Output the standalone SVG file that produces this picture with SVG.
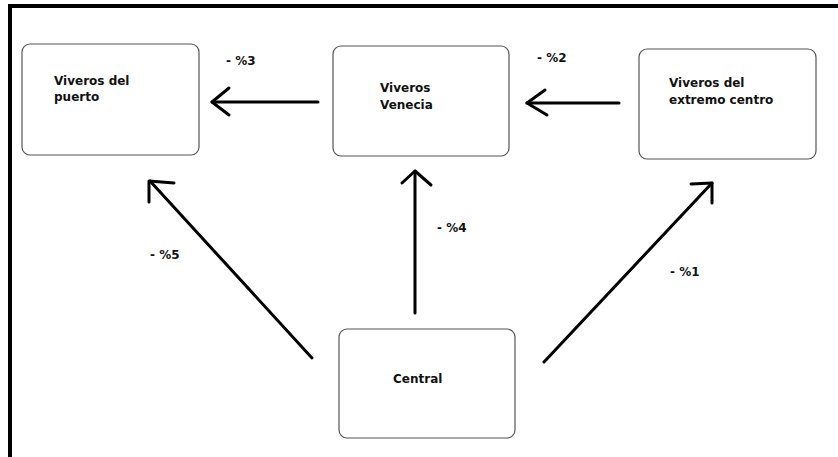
<svg xmlns="http://www.w3.org/2000/svg" width="838" height="457" viewBox="0 0 838 457">
<style>
.node rect{fill:#fff;stroke:#555;stroke-width:1.2}
text{font-family:"DejaVu Sans","Verdana",sans-serif;font-weight:bold;font-size:12px;fill:#111}
.c line,.c polyline{stroke:#000;stroke-width:3;fill:none;stroke-linecap:round;stroke-linejoin:round}
</style>
<rect x="0" y="0" width="838" height="457" fill="#fff"/>
<rect x="8" y="4" width="830" height="4" fill="#000"/>
<rect x="8" y="4" width="4" height="453" fill="#000"/>
<g id="puerto" class="node">
<rect x="22" y="44" width="177" height="111" rx="8"/>
<text x="54" y="85">Viveros del</text>
<text x="54" y="101">puerto</text>
</g>
<g id="venecia" class="node">
<rect x="333" y="46" width="176" height="110" rx="8"/>
<text x="380" y="92">Viveros</text>
<text x="380" y="109">Venecia</text>
</g>
<g id="extremo" class="node">
<rect x="639" y="49" width="177" height="110" rx="8"/>
<text x="669" y="87">Viveros del</text>
<text x="669" y="104">extremo centro</text>
</g>
<g id="central" class="node">
<rect x="339" y="329" width="176" height="109" rx="8"/>
<text x="393" y="383">Central</text>
</g>
<g id="connectors" class="c">
<line x1="318" y1="102" x2="212" y2="102"/>
<polyline points="229,88 212,102 229,115"/>
<line x1="619" y1="103" x2="527" y2="103"/>
<polyline points="545,90 527,103 547,115"/>
<line x1="415" y1="313" x2="415" y2="171"/>
<polyline points="402,183 415,171 431,185"/>
<line x1="312" y1="358" x2="150" y2="181"/>
<polyline points="149,202 149,181 174,183"/>
<line x1="544" y1="362" x2="712" y2="183"/>
<polyline points="691,184 712,183 712,203"/>
</g>
<g id="labels">
<text x="226" y="65">- %3</text>
<text x="537" y="62">- %2</text>
<text x="437" y="232">- %4</text>
<text x="150" y="259">- %5</text>
<text x="670" y="276">- %1</text>
</g>
</svg>
